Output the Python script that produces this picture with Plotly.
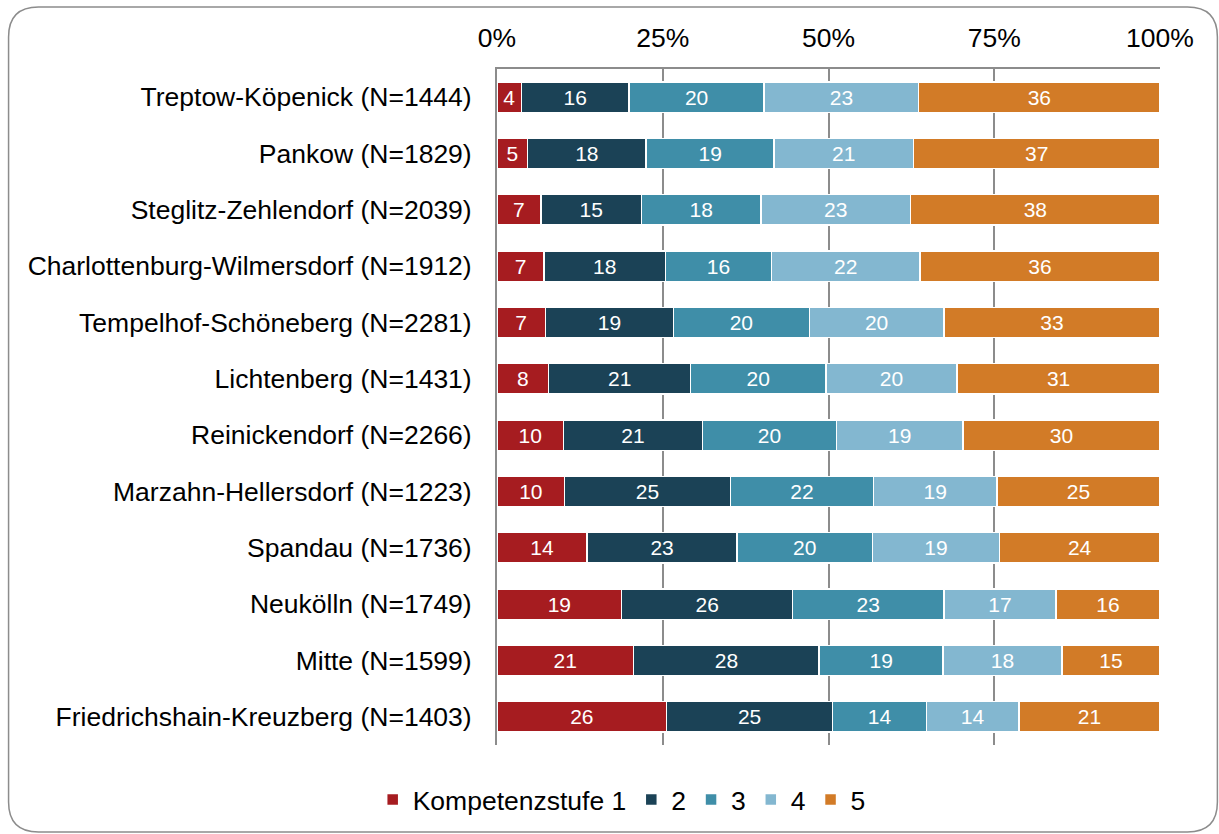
import plotly.graph_objects as go

districts = ["Treptow-Köpenick", "Pankow", "Steglitz-Zehlendorf", "Charlottenburg-Wilmersdorf",
             "Tempelhof-Schöneberg", "Lichtenberg", "Reinickendorf", "Marzahn-Hellersdorf",
             "Spandau", "Neukölln", "Mitte", "Friedrichshain-Kreuzberg"]
n_values = [1444, 1829, 2039, 1912, 2281, 1431, 2266, 1223, 1736, 1749, 1599, 1403]

stufe1 = [3.7, 4.6, 6.6, 7.1, 7.3, 7.8, 10.0, 10.2, 13.6, 18.8, 20.6, 25.6]
stufe2 = [16.2, 17.9, 15.2, 18.3, 19.3, 21.4, 21.0, 25.0, 22.6, 25.8, 28.0, 25.0]
stufe3 = [20.4, 19.3, 18.0, 16.0, 20.5, 20.4, 20.2, 21.6, 20.4, 22.8, 18.7, 14.2]
stufe4 = [23.3, 21.0, 22.6, 22.4, 20.3, 19.8, 19.1, 18.6, 19.2, 16.9, 17.9, 13.9]
stufe5 = [36.4, 37.2, 37.6, 36.2, 32.6, 30.6, 29.7, 24.6, 24.2, 15.7, 14.8, 21.3]

series_names = ["Kompetenzstufe 1", "2", "3", "4", "5"]
series_values = [stufe1, stufe2, stufe3, stufe4, stufe5]
colors = ["#A61C20", "#1B4256", "#3F8EA8", "#83B7D0", "#D27B27"]

tick_vals = [0, 25, 50, 75, 100]
tick_text = ["0%", "25%", "50%", "75%", "100%"]

labels = [f"{d} (N={n})" for d, n in zip(districts, n_values)]

FONT = "Liberation Sans, Arial, sans-serif"
FS = 26.5

fig = go.Figure()
for name, vals, col in zip(series_names, series_values, colors):
    fig.add_trace(go.Bar(
        y=labels, x=vals, name=name, orientation="h",
        marker=dict(color=col, line=dict(color="white", width=1.5)),
        text=[str(int(round(v))) for v in vals],
        textposition="inside", insidetextanchor="middle",
        textfont=dict(color="white", size=21, family=FONT),
        width=0.54,
    ))

W, H = 1219, 834
L, R, T, B = 496.5, 1159.6, 69, 745

def px(x):
    return (x - L) / (R - L)

def py(y):
    return (B - y) / (B - T)

# rounded frame
x0, x1, y0, y1, r = 8, 1217, 7, 832, 30
path = (f"M {px(x0 + r)},{py(y0)} L {px(x1 - r)},{py(y0)} "
        f"Q {px(x1)},{py(y0)} {px(x1)},{py(y0 + r)} "
        f"L {px(x1)},{py(y1 - r)} Q {px(x1)},{py(y1)} {px(x1 - r)},{py(y1)} "
        f"L {px(x0 + r)},{py(y1)} Q {px(x0)},{py(y1)} {px(x0)},{py(y1 - r)} "
        f"L {px(x0)},{py(y0 + r)} Q {px(x0)},{py(y0)} {px(x0 + r)},{py(y0)} Z")

fig.update_layout(
    width=W, height=H, autosize=False,
    barmode="stack", bargap=0.46,
    plot_bgcolor="white", paper_bgcolor="white",
    margin=dict(l=L, r=W - R, t=T, b=H - B, pad=0),
    font=dict(family=FONT, size=FS, color="#000000"),
    shapes=[dict(type="path", xref="paper", yref="paper", path=path,
                 line=dict(color="#8C8C8C", width=1.5), fillcolor="rgba(0,0,0,0)", layer="below")],
    legend=dict(orientation="h", xref="container", yref="container",
                x=0.51, y=0.041, xanchor="center", yanchor="middle",
                font=dict(size=FS, family=FONT), traceorder="normal",
                itemwidth=30, itemclick=False),
    xaxis=dict(side="top", range=[0, 100], tickvals=tick_vals, ticktext=tick_text,
               showgrid=True, gridcolor="#8C8C8C", gridwidth=2,
               showline=True, linecolor="#8C8C8C", linewidth=2,
               zeroline=False, ticks="", ticklabelstandoff=9,
               tickfont=dict(size=FS, family=FONT)),
    yaxis=dict(autorange="reversed", showgrid=False, showline=True,
               linecolor="#8C8C8C", linewidth=2, ticks="", ticklabelstandoff=18,
               tickfont=dict(size=FS, family=FONT)),
)

fig.write_html("out.html", config={"displayModeBar": False},
               post_script="document.body.style.margin='0';document.body.style.overflow='hidden';")
